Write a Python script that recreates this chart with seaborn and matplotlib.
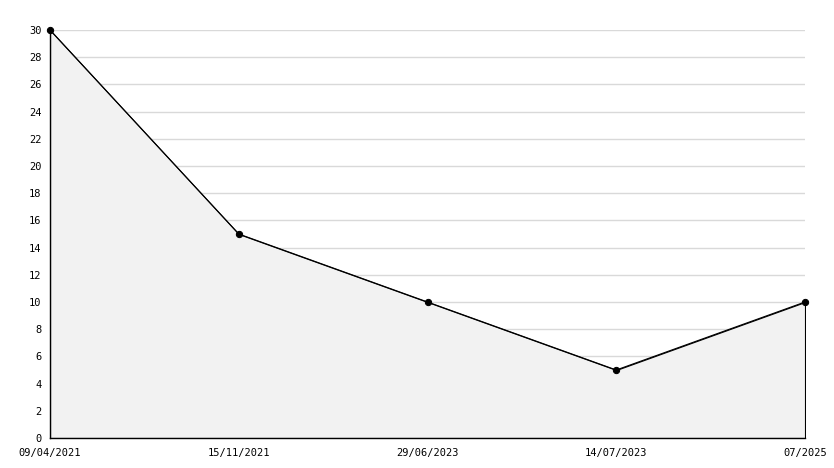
import matplotlib
matplotlib.use("Agg")
import matplotlib.pyplot as plt
from matplotlib.ticker import MultipleLocator
import seaborn as sns

dates = ["09/04/2021", "15/11/2021", "29/06/2023", "14/07/2023", "07/2025"]
values = [30, 15, 10, 5, 10]
pos = list(range(len(dates)))

sns.set_style("white")
plt.rcParams["font.family"] = ["DejaVu Sans Mono"]

fig = plt.figure(figsize=(8.34, 4.68), dpi=100)
ax = fig.add_axes([50 / 834, 30 / 468, 755 / 834, 408 / 468])

ax.fill_between(pos, values, 0, facecolor="#f2f2f2", edgecolor="black", linewidth=0.8, zorder=1)
sns.lineplot(x=pos, y=values, ax=ax, color="black", linewidth=0.8, marker="o",
             markersize=4.5, markeredgecolor="black", zorder=3, clip_on=False)

ax.set_xlim(0, 4)
ax.set_ylim(0, 30)
ax.set_xticks(pos)
ax.set_xticklabels(dates)
ax.yaxis.set_major_locator(MultipleLocator(2))
ax.yaxis.set_minor_locator(MultipleLocator(1))
ax.grid(axis="y", which="major", color="#d9d9d9", linewidth=1, zorder=0)
ax.set_axisbelow(True)

for side in ["top", "right"]:
    ax.spines[side].set_visible(False)
for side in ["left", "bottom"]:
    ax.spines[side].set_color("black")
    ax.spines[side].set_linewidth(1)

ax.tick_params(axis="both", which="major", direction="in", length=5, width=1,
               labelsize=7.5, colors="black")
ax.tick_params(axis="y", which="minor", direction="in", length=4, width=1, left=True)
ax.tick_params(axis="y", pad=6)
ax.tick_params(axis="x", pad=7)

fig.savefig("out.png", dpi=100)
